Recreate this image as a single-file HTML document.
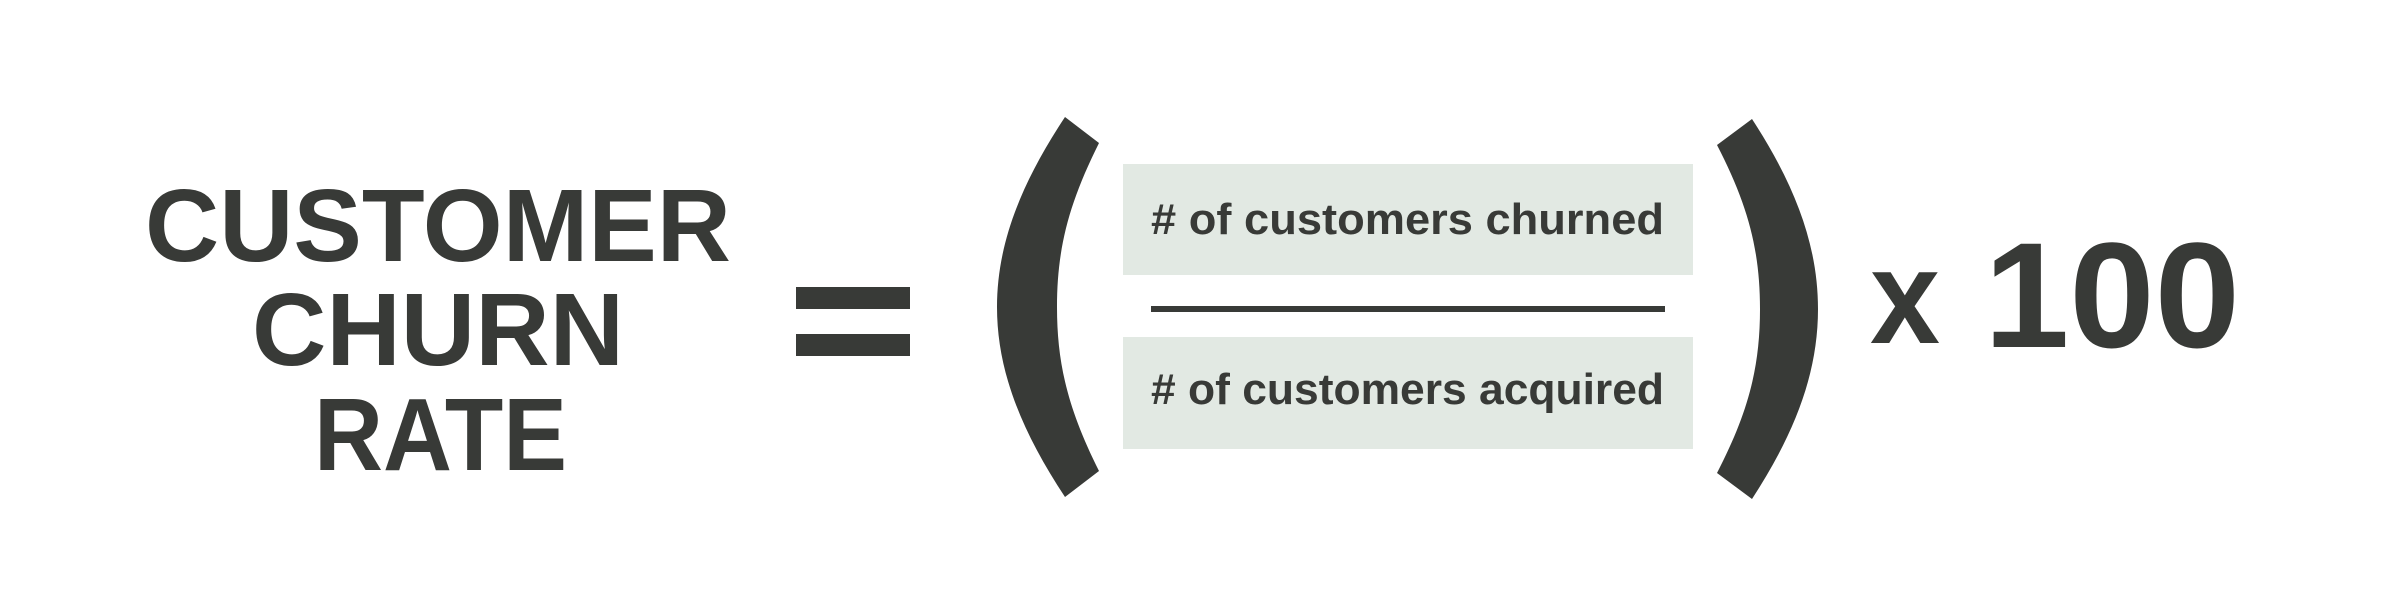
<!DOCTYPE html>
<html><head><meta charset="utf-8"><style>
html,body{margin:0;padding:0;background:#fff;}
svg{display:block;}
</style></head><body>
<svg width="2400" height="600" viewBox="0 0 2400 600" xmlns="http://www.w3.org/2000/svg">
<rect width="2400" height="600" fill="#fff"/>
<g fill="#383a37" font-family="'Liberation Sans', sans-serif" font-weight="bold">
<text x="145" y="261" font-size="103" textLength="586" lengthAdjust="spacingAndGlyphs">CUSTOMER</text>
<text x="252" y="365" font-size="103" textLength="372" lengthAdjust="spacingAndGlyphs">CHURN</text>
<text x="314" y="470" font-size="103" textLength="253" lengthAdjust="spacingAndGlyphs">RATE</text>
<rect x="796" y="287" width="114" height="22"/>
<rect x="796" y="334" width="114" height="22"/>
<path d="M1065,117 L1099,143 C1068,205 1057,250 1057,307 C1057,364 1068,409 1099,471 L1065,497 C1020,429 997,369 997,307 C997,245 1020,185 1065,117 Z"/>
<path d="M1752,119 L1717,145 C1748,205 1760,250 1760,309 C1760,368 1748,413 1717,473 L1752,499 C1795,433 1818,373 1818,309 C1818,245 1795,185 1752,119 Z"/>
<rect x="1123" y="164" width="570" height="111" fill="#e2e9e3"/>
<rect x="1123" y="337" width="570" height="112" fill="#e2e9e3"/>
<rect x="1151" y="306" width="514" height="6"/>
<text x="1151" y="234" font-size="44" textLength="513" lengthAdjust="spacingAndGlyphs">#&#160;of customers churned</text>
<text x="1151" y="404" font-size="44" textLength="513" lengthAdjust="spacingAndGlyphs">#&#160;of customers acquired</text>
<text x="1870" y="343" font-size="134" textLength="70" lengthAdjust="spacingAndGlyphs">x</text>
<text x="1984" y="347" font-size="150" textLength="256" lengthAdjust="spacingAndGlyphs">100</text>
</g>
</svg>
</body></html>
